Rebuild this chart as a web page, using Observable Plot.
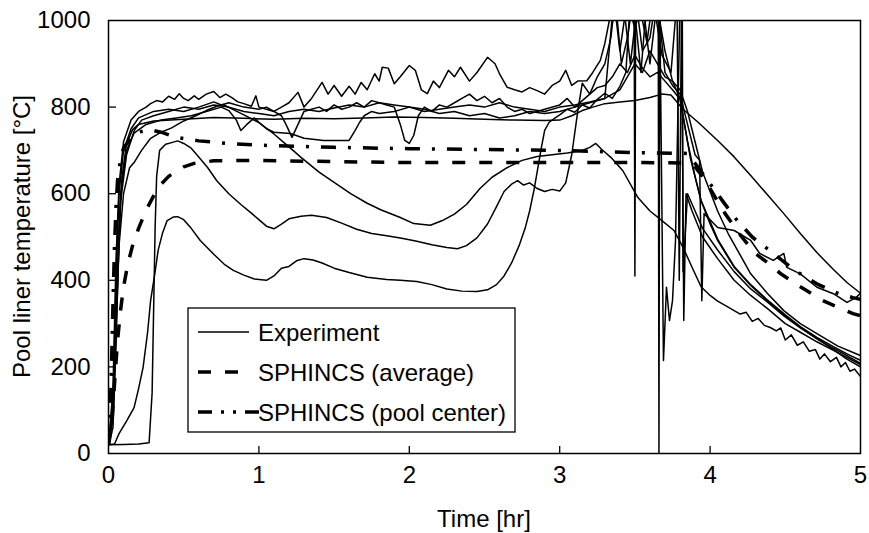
<!DOCTYPE html>
<html><head><meta charset="utf-8">
<script src="https://cdn.jsdelivr.net/npm/d3@7"></script>
<script src="https://cdn.jsdelivr.net/npm/@observablehq/plot@0.6"></script>
<style>
body{margin:0;background:#fff}
#chart{position:relative;width:869px;height:533px}
</style>
</head><body><div id="chart"></div>
<script>
// Tick values
const xTicks = [0, 1, 2, 3, 4, 5];
const yTicks = [0, 200, 400, 600, 800, 1000];
const xLabel = "Time [hr]";
const yLabel = "Pool liner temperature [°C]";
const legendLabels = ["Experiment", "SPHINCS (average)", "SPHINCS (pool center)"];

// Experimental thermocouple traces: [time hr, temperature °C]
const expA = [[0,20],[0.04,22],[0.07,46],[0.12,75],[0.17,106],[0.2,150],[0.23,199],[0.26,280],[0.28,353],[0.31,420],[0.33,469],[0.36,510],[0.39,538],[0.43,546],[0.46,547],[0.5,540],[0.55,520],[0.61,492],[0.7,460],[0.77,437],[0.83,423],[0.9,412],[0.97,403],[1.05,400],[1.1,410],[1.15,428],[1.2,432],[1.25,445],[1.3,450],[1.36,447],[1.42,440],[1.5,428],[1.6,418],[1.72,407],[1.85,402],[1.94,400],[2.05,397],[2.15,390],[2.25,380],[2.35,375],[2.45,374],[2.52,378],[2.58,390],[2.63,410],[2.68,440],[2.73,480],[2.77,520],[2.8,560],[2.83,610],[2.86,670],[2.88,710],[2.9,746],[2.93,765],[2.97,775],[3.0,782],[3.05,795],[3.1,788],[3.15,805],[3.2,798],[3.25,818],[3.3,832],[3.35,820],[3.4,848],[3.44,880],[3.47,1050],[3.495,1050],[3.5,410],[3.505,1050],[3.55,930],[3.6,960],[3.64,1050],[3.7,930],[3.75,860],[3.8,820],[3.85,720],[3.9,640],[3.94,584],[4.0,530],[4.05,492],[4.16,430],[4.27,388],[4.38,353],[4.49,320],[4.6,291],[4.71,266],[4.82,240],[4.91,218],[5.0,200]];
const expB = [[0,20],[0.1,21],[0.2,22],[0.27,25],[0.29,140],[0.3,330],[0.31,520],[0.32,640],[0.34,700],[0.38,714],[0.42,718],[0.46,722],[0.5,716],[0.55,705],[0.6,685],[0.66,660],[0.72,630],[0.8,600],[0.88,575],[0.95,555],[1.0,540],[1.05,525],[1.1,519],[1.15,530],[1.2,542],[1.28,548],[1.35,550],[1.45,545],[1.55,532],[1.65,518],[1.75,508],[1.85,503],[1.95,497],[2.05,490],[2.15,482],[2.25,476],[2.32,473],[2.38,480],[2.45,498],[2.52,530],[2.58,570],[2.63,605],[2.68,622],[2.72,630],[2.76,620],[2.8,625],[2.85,612],[2.9,605],[2.95,610],[3.0,606],[3.04,625],[3.08,690],[3.12,790],[3.15,855],[3.2,830],[3.25,870],[3.3,900],[3.34,960],[3.37,1050],[3.41,900],[3.45,960],[3.49,1050],[3.54,880],[3.58,1050],[3.655,1050],[3.66,0],[3.665,1050],[3.69,215],[3.71,384],[3.73,307],[3.75,353],[3.77,492],[3.8,1050],[3.815,1050],[3.82,420],[3.85,600],[3.9,560],[3.95,520],[4.05,470],[4.16,420],[4.27,380],[4.38,350],[4.49,318],[4.6,290],[4.71,265],[4.82,243],[4.91,226],[5.0,208]];
const expC = [[0,20],[0.03,80],[0.05,280],[0.07,480],[0.1,600],[0.14,660],[0.17,672],[0.22,700],[0.28,728],[0.35,742],[0.42,752],[0.5,768],[0.58,780],[0.65,792],[0.72,802],[0.76,806],[0.82,796],[0.9,782],[1.0,764],[1.1,738],[1.2,708],[1.28,684],[1.4,650],[1.5,626],[1.61,600],[1.72,578],[1.81,563],[1.94,545],[2.03,531],[2.14,527],[2.22,538],[2.3,553],[2.38,575],[2.47,612],[2.55,638],[2.65,660],[2.75,677],[2.85,686],[2.95,690],[3.05,694],[3.15,700],[3.2,707],[3.24,716],[3.28,702],[3.34,684],[3.42,653],[3.52,591],[3.6,560],[3.68,538],[3.76,515],[3.82,476],[3.88,430],[3.94,385],[4.0,365],[4.05,352],[4.1,342],[4.16,330],[4.2,322],[4.24,326],[4.28,305],[4.32,312],[4.36,296],[4.4,291],[4.44,283],[4.47,290],[4.5,262],[4.54,274],[4.58,250],[4.62,258],[4.66,236],[4.7,240],[4.73,218],[4.76,230],[4.8,212],[4.84,222],[4.87,200],[4.9,210],[4.93,190],[4.96,195],[5.0,178]];
const expE = [[0,20],[0.03,60],[0.05,250],[0.07,500],[0.09,640],[0.12,715],[0.16,748],[0.2,760],[0.3,768],[0.5,772],[0.7,776],[0.9,774],[1.1,772],[1.3,774],[1.5,773],[1.7,775],[1.9,777],[2.1,776],[2.3,774],[2.5,772],[2.7,770],[2.9,769],[3.0,770],[3.08,780],[3.15,792],[3.22,800],[3.3,808],[3.4,812],[3.5,815],[3.6,822],[3.68,830],[3.74,828],[3.82,795],[3.92,765],[4.05,723],[4.16,685],[4.27,642],[4.38,598],[4.49,554],[4.6,508],[4.71,464],[4.82,425],[4.91,395],[5.0,370]];
const expF = [[0,20],[0.03,150],[0.05,450],[0.07,620],[0.1,720],[0.15,770],[0.2,790],[0.25,800],[0.28,808],[0.32,815],[0.36,812],[0.4,825],[0.44,818],[0.47,831],[0.5,820],[0.53,815],[0.57,826],[0.6,818],[0.65,830],[0.7,836],[0.74,822],[0.78,830],[0.82,822],[0.86,812],[0.9,808],[0.95,802],[0.98,826],[1.0,800],[1.05,795],[1.1,790],[1.15,800],[1.2,810],[1.26,834],[1.3,800],[1.35,820],[1.42,857],[1.46,830],[1.5,850],[1.55,825],[1.6,848],[1.64,830],[1.68,857],[1.72,840],[1.77,877],[1.8,860],[1.82,892],[1.86,890],[1.9,854],[1.94,870],[2.0,896],[2.04,885],[2.08,840],[2.12,831],[2.16,860],[2.2,845],[2.26,885],[2.3,870],[2.34,892],[2.4,860],[2.45,880],[2.52,915],[2.57,900],[2.6,877],[2.65,846],[2.7,840],[2.75,835],[2.8,845],[2.85,838],[2.9,830],[2.95,850],[3.0,860],[3.04,885],[3.08,850],[3.12,860],[3.18,861],[3.22,880],[3.27,908],[3.3,947],[3.33,1000],[3.36,1050],[3.4,930],[3.45,1050],[3.5,980],[3.55,1050],[3.6,900],[3.65,1050],[3.7,880],[3.75,850],[3.8,830],[3.85,760],[3.9,690],[3.93,677],[3.945,353],[3.96,554],[4.05,522],[4.16,515],[4.27,492],[4.33,462],[4.42,446],[4.49,462],[4.51,430],[4.6,415],[4.71,384],[4.82,369],[4.91,349],[4.97,360],[5.0,370]];
const expG = [[0,20],[0.03,120],[0.05,400],[0.07,600],[0.1,700],[0.15,750],[0.2,775],[0.3,790],[0.4,795],[0.5,790],[0.6,800],[0.7,812],[0.75,805],[0.8,810],[0.9,800],[1.0,795],[1.05,800],[1.1,790],[1.15,780],[1.18,760],[1.22,730],[1.26,760],[1.3,790],[1.35,795],[1.4,800],[1.45,790],[1.5,805],[1.55,795],[1.6,800],[1.65,810],[1.7,800],[1.75,815],[1.8,810],[1.85,805],[1.9,800],[1.94,760],[1.97,723],[2.0,716],[2.03,735],[2.06,780],[2.1,800],[2.15,790],[2.2,805],[2.25,800],[2.3,810],[2.35,820],[2.4,830],[2.45,815],[2.5,825],[2.55,810],[2.6,820],[2.65,800],[2.7,790],[2.75,795],[2.8,785],[2.85,790],[2.9,795],[3.0,805],[3.05,820],[3.1,800],[3.15,815],[3.2,830],[3.25,845],[3.3,850],[3.35,870],[3.4,900],[3.45,880],[3.5,920],[3.55,890],[3.6,870],[3.65,880],[3.7,860],[3.75,840],[3.8,818],[3.83,760],[3.87,680],[3.94,584],[4.05,495],[4.16,432],[4.27,390],[4.38,355],[4.5,320],[4.6,293],[4.71,268],[4.82,247],[4.91,230],[5.0,215]];
const expH = [[0,20],[0.03,100],[0.05,350],[0.08,600],[0.12,700],[0.17,740],[0.25,760],[0.35,770],[0.45,775],[0.55,780],[0.65,790],[0.75,800],[0.8,792],[0.85,770],[0.88,746],[0.92,760],[0.97,775],[1.0,765],[1.05,750],[1.1,742],[1.21,739],[1.3,728],[1.43,723],[1.52,723],[1.6,723],[1.64,746],[1.67,765],[1.7,780],[1.75,790],[1.8,785],[1.9,790],[2.0,800],[2.1,795],[2.2,785],[2.3,790],[2.4,780],[2.5,785],[2.6,775],[2.7,780],[2.8,790],[2.9,785],[3.0,790],[3.1,800],[3.2,810],[3.3,820],[3.4,840],[3.45,870],[3.5,900],[3.55,880],[3.6,930],[3.65,900],[3.7,870],[3.75,860],[3.8,840],[3.85,790],[3.9,720],[3.95,650],[4.05,560],[4.12,508],[4.27,415],[4.38,370],[4.49,330],[4.6,300],[4.71,277],[4.85,248],[5.0,226]];
const expI = [[0,20],[0.03,90],[0.05,300],[0.08,580],[0.12,690],[0.17,745],[0.22,770],[0.3,780],[0.4,790],[0.5,800],[0.6,795],[0.7,805],[0.8,800],[0.9,790],[1.0,785],[1.1,780],[1.2,790],[1.3,795],[1.4,790],[1.5,798],[1.6,805],[1.7,800],[1.8,810],[1.9,805],[2.0,800],[2.1,790],[2.2,795],[2.3,800],[2.4,805],[2.5,800],[2.6,810],[2.7,800],[2.8,795],[2.9,790],[3.0,800],[3.1,805],[3.2,812],[3.3,820],[3.36,1050],[3.42,1050],[3.47,900],[3.52,1050],[3.58,950],[3.62,1050],[3.68,920],[3.74,880],[3.78,1050],[3.795,400],[3.81,1050],[3.825,307],[3.84,600],[3.88,560],[3.95,500],[4.05,450],[4.16,400],[4.27,365],[4.38,335],[4.5,300],[4.6,280],[4.71,258],[4.82,238],[4.91,222],[5.0,205]];

// SPHINCS simulations
const sphincsAverage = [[0,20],[0.02,60],[0.04,160],[0.06,260],[0.08,330],[0.1,385],[0.13,440],[0.16,480],[0.2,520],[0.25,562],[0.3,595],[0.35,622],[0.4,640],[0.45,652],[0.5,662],[0.57,670],[0.7,676],[1.0,677],[1.5,674],[2.0,672],[2.5,672],[3.0,672],[3.5,672],[3.85,671],[3.9,662],[3.95,640],[4.0,612],[4.05,582],[4.1,554],[4.2,505],[4.3,462],[4.4,436],[4.47,415],[4.6,385],[4.75,353],[4.85,338],[4.95,323],[5.0,318]];
const sphincsCenter = [[0,20],[0.01,80],[0.02,200],[0.03,350],[0.04,480],[0.05,570],[0.06,630],[0.08,680],[0.1,705],[0.15,730],[0.2,742],[0.27,748],[0.35,742],[0.45,730],[0.6,722],[0.8,716],[1.0,712],[1.5,707],[2.0,704],[2.5,702],[3.0,700],[3.5,695],[3.85,693],[3.92,661],[4.0,623],[4.09,580],[4.18,538],[4.28,500],[4.38,473],[4.5,440],[4.6,415],[4.72,390],[4.85,370],[4.95,360],[5.0,356]];

const experiments = {expA, expB, expC, expE, expF, expG, expH, expI};
const expRows = Object.entries(experiments).flatMap(([id, arr]) => arr.map(([t, T]) => ({id, t, T})));
const avgRows = sphincsAverage.map(([t, T]) => ({t, T}));
const cenRows = sphincsCenter.map(([t, T]) => ({t, T}));

const W = 869, H = 533, mL = 108, mR = 9, mT = 20, mB = 80;
const innerW = W - mL - mR, innerH = H - mT - mB;

const chart = Plot.plot({
  width: W, height: H,
  marginLeft: mL, marginRight: mR, marginTop: mT, marginBottom: mB,
  style: {fontFamily: "'Liberation Sans', Arial, sans-serif", fontSize: "24px", color: "#000", background: "#fff", overflow: "visible"},
  x: {domain: [0, 5]},
  y: {domain: [0, 1000]},
  marks: [
    Plot.line(expRows, {x: "t", y: "T", z: "id", stroke: "#000", strokeWidth: 1.5, clip: true}),
    Plot.line(avgRows, {x: "t", y: "T", stroke: "#000", strokeWidth: 3.5, strokeDasharray: "13,14", strokeLinecap: "butt", clip: true}),
    Plot.line(cenRows, {x: "t", y: "T", stroke: "#000", strokeWidth: 3.5, strokeDasharray: "15,12,3,12", strokeLinecap: "butt", clip: true}),
    Plot.ruleX(xTicks.filter(d => d > 0 && d < 5), {x: d => d, insetTop: innerH - 7, stroke: "#000", strokeWidth: 1.3}),
    Plot.ruleY(yTicks.filter(d => d > 0 && d < 1000), {y: d => d, insetRight: innerW - 8, stroke: "#000", strokeWidth: 1.3}),
    Plot.frame({stroke: "#000", strokeWidth: 1.5}),
    Plot.axisX(xTicks, {tickSize: 0, tickPadding: 12, label: null, tickFormat: d => String(d)}),
    Plot.axisY(yTicks, {tickSize: 0, tickPadding: 18, label: null, tickFormat: d => String(d)})
  ]
});

const svg = d3.select(chart);
svg.append("text").attr("x", 484).attr("y", 518).attr("text-anchor", "middle").attr("dominant-baseline", "central")
  .attr("font-size", 24).attr("fill", "#000").text(xLabel);
svg.append("text").attr("transform", "translate(21,236.5) rotate(-90)").attr("text-anchor", "middle").attr("dominant-baseline", "central")
  .attr("font-size", 24).attr("fill", "#000").text(yLabel);

// Legend
const lg = svg.append("g");
lg.append("rect").attr("x", 188).attr("y", 308).attr("width", 327).attr("height", 124).attr("fill", "#fff").attr("stroke", "#000").attr("stroke-width", 1.3);
const dashes = [null, "13,14", "14,9,3,9,3,9,14"];
const widths = [1.5, 3.5, 3.5];
const ends = [249, 240, 259];
const rowsY = [332, 372, 412];
legendLabels.forEach((lab, i) => {
  lg.append("line").attr("x1", 198).attr("x2", ends[i]).attr("y1", rowsY[i]).attr("y2", rowsY[i])
    .attr("stroke", "#000").attr("stroke-width", widths[i]).attr("stroke-dasharray", dashes[i]);
  lg.append("text").attr("x", 258).attr("y", rowsY[i]).attr("text-anchor", "start").attr("dominant-baseline", "central")
    .attr("font-size", 24).attr("fill", "#000").text(lab);
});

document.getElementById("chart").appendChild(chart);
</script>
</body></html>
